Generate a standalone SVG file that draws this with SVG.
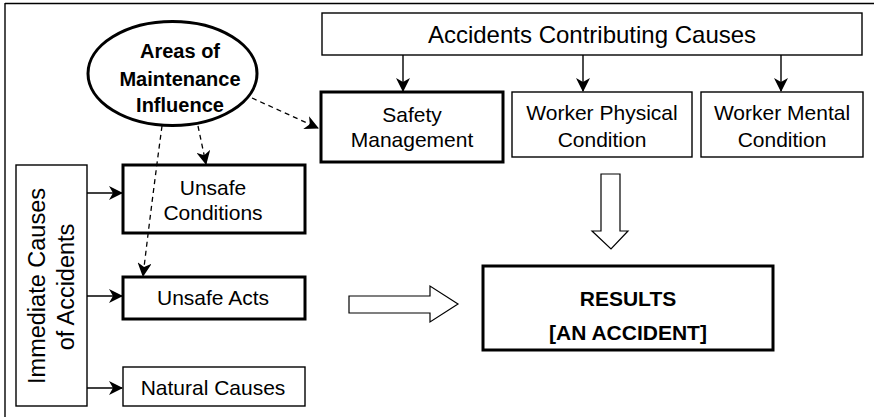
<svg xmlns="http://www.w3.org/2000/svg" width="874" height="417" viewBox="0 0 874 417">
<defs>
<style>
.thin{fill:#fff;stroke:#000;stroke-width:1.4}
.thick{fill:#fff;stroke:#000;stroke-width:3}
.t{font-family:"Liberation Sans",Arial,sans-serif;font-size:21px;text-anchor:middle;fill:#000}
.b{font-weight:bold}
.ln{stroke:#000;stroke-width:1.4;fill:none}
.dash{stroke:#000;stroke-width:1.3;fill:none;stroke-dasharray:5,4}
.hollow{fill:#fff;stroke:#000;stroke-width:1.2}
</style>
<marker id="ah" markerUnits="userSpaceOnUse" markerWidth="14" markerHeight="14" viewBox="0 0 14 14" refX="13" refY="7" orient="auto">
<path d="M0,0 L14,7 L0,14 L4,7 z" fill="#000"/>
</marker>
</defs>
<g id="frame">
<line x1="5" y1="3.5" x2="874" y2="3.5" class="ln"/>
<line x1="5" y1="3" x2="5" y2="417" class="ln"/>
</g>
<g id="contributing">
<rect x="322" y="13" width="540" height="42" class="thin"/>
<text x="592" y="43" class="t" style="font-size:24px">Accidents Contributing Causes</text>
</g>
<g id="safety">
<rect x="321" y="92" width="182" height="70" class="thick"/>
<text x="412" y="122" class="t">Safety</text>
<text x="412" y="147" class="t">Management</text>
</g>
<g id="physical">
<rect x="512" y="92" width="180" height="65" class="thin"/>
<text x="602" y="120" class="t">Worker Physical</text>
<text x="602" y="147" class="t">Condition</text>
</g>
<g id="mental">
<rect x="701" y="92" width="162" height="65" class="thin"/>
<text x="782" y="120" class="t">Worker Mental</text>
<text x="782" y="147" class="t">Condition</text>
</g>
<g id="maintenance">
<ellipse cx="172.5" cy="73.5" rx="84.5" ry="52" class="thick"/>
<text x="180" y="58" class="t b" style="font-size:20px">Areas of</text>
<text x="180" y="86" class="t b" style="font-size:20px">Maintenance</text>
<text x="180" y="112" class="t b" style="font-size:20px">Influence</text>
</g>
<g id="immediate">
<rect x="16" y="165" width="71" height="241" class="thin"/>
<text transform="translate(45,286) rotate(-90)" class="t" style="font-size:23.5px">Immediate Causes</text>
<text transform="translate(74,287) rotate(-90)" class="t" style="font-size:23.5px">of Accidents</text>
</g>
<g id="unsafe-conditions">
<rect x="123" y="165" width="182" height="68" class="thick"/>
<text x="213" y="195" class="t">Unsafe</text>
<text x="213" y="220" class="t">Conditions</text>
</g>
<g id="unsafe-acts">
<rect x="123" y="277" width="182" height="42" class="thick"/>
<text x="213" y="305" class="t">Unsafe Acts</text>
</g>
<g id="natural">
<rect x="123" y="367" width="182" height="39" class="thin"/>
<text x="213" y="395" class="t">Natural Causes</text>
</g>
<g id="results">
<rect x="483" y="266" width="290" height="84" class="thick"/>
<text x="628" y="306" class="t b">RESULTS</text>
<text x="628" y="340" class="t b">[AN ACCIDENT]</text>
</g>
<g id="connectors">
<line x1="403" y1="55" x2="403" y2="91" class="ln" marker-end="url(#ah)"/>
<line x1="583" y1="55" x2="583" y2="91" class="ln" marker-end="url(#ah)"/>
<line x1="781" y1="55" x2="781" y2="91" class="ln" marker-end="url(#ah)"/>
<line x1="87" y1="193" x2="122" y2="193" class="ln" marker-end="url(#ah)"/>
<line x1="87" y1="296" x2="122" y2="296" class="ln" marker-end="url(#ah)"/>
<line x1="87" y1="388" x2="122" y2="388" class="ln" marker-end="url(#ah)"/>
<line x1="252" y1="98" x2="318" y2="128" class="dash" marker-end="url(#ah)"/>
<line x1="198" y1="126" x2="206" y2="164" class="dash" marker-end="url(#ah)"/>
<path d="M162,126 Q152,200 143,276" class="dash" marker-end="url(#ah)"/>
<path d="M601,174 L620,174 L620,231 L628,231 L611,249 L592,231 L601,231 z" class="hollow"/>
<path d="M349,296 L430,296 L430,286 L458,304 L430,322 L430,313 L349,313 z" class="hollow"/>
</g>
</svg>
